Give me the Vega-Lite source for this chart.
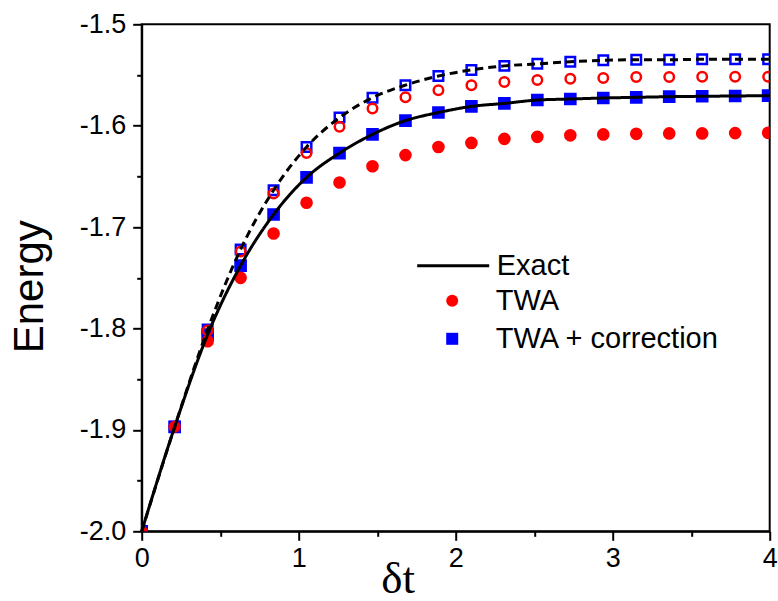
{
  "$schema": "https://vega.github.io/schema/vega-lite/v6.json",
  "width": 628,
  "height": 507,
  "autosize": {"type": "none"},
  "padding": {"left": 141.7, "top": 24.3, "right": 8.3, "bottom": 69.7},
  "background": "white",
  "config": {
    "view": {"stroke": "black", "strokeWidth": 2},
    "axis": {
      "domainColor": "black", "domainWidth": 2,
      "tickColor": "black", "tickWidth": 2,
      "labelColor": "black", "labelFont": "Liberation Sans", "labelFontSize": 27,
      "titleColor": "black", "titleFontWeight": "normal",
      "grid": false
    },
    "legend": {"labelFont": "Liberation Sans", "labelFontSize": 29, "labelColor": "black", "labelLimit": 0, "padding": 0, "rowPadding": 8}
  },
  "datasets": {
    "curves": [
      {"x": 0, "E": -2.0, "series": "Exact"},
      {"x": 0.21, "E": -1.897, "series": "Exact"},
      {"x": 0.42, "E": -1.806, "series": "Exact"},
      {"x": 0.63, "E": -1.738, "series": "Exact"},
      {"x": 0.84, "E": -1.6876, "series": "Exact"},
      {"x": 1.05, "E": -1.651, "series": "Exact"},
      {"x": 1.26, "E": -1.627, "series": "Exact"},
      {"x": 1.47, "E": -1.6086, "series": "Exact"},
      {"x": 1.68, "E": -1.595, "series": "Exact"},
      {"x": 1.89, "E": -1.587, "series": "Exact"},
      {"x": 2.10, "E": -1.581, "series": "Exact"},
      {"x": 2.31, "E": -1.578, "series": "Exact"},
      {"x": 2.52, "E": -1.5747, "series": "Exact"},
      {"x": 2.73, "E": -1.5737, "series": "Exact"},
      {"x": 2.94, "E": -1.5727, "series": "Exact"},
      {"x": 3.15, "E": -1.572, "series": "Exact"},
      {"x": 3.36, "E": -1.5714, "series": "Exact"},
      {"x": 3.57, "E": -1.571, "series": "Exact"},
      {"x": 3.78, "E": -1.5707, "series": "Exact"},
      {"x": 3.99, "E": -1.5704, "series": "Exact"},
      {"x": 4.0, "E": -1.5704, "series": "Exact"},
      {"x": 0, "E": -2.0, "series": "Dashed"},
      {"x": 0.21, "E": -1.897, "series": "Dashed"},
      {"x": 0.42, "E": -1.801, "series": "Dashed"},
      {"x": 0.63, "E": -1.722, "series": "Dashed"},
      {"x": 0.84, "E": -1.6636, "series": "Dashed"},
      {"x": 1.05, "E": -1.621, "series": "Dashed"},
      {"x": 1.26, "E": -1.592, "series": "Dashed"},
      {"x": 1.47, "E": -1.5724, "series": "Dashed"},
      {"x": 1.68, "E": -1.560, "series": "Dashed"},
      {"x": 1.89, "E": -1.551, "series": "Dashed"},
      {"x": 2.10, "E": -1.545, "series": "Dashed"},
      {"x": 2.31, "E": -1.541, "series": "Dashed"},
      {"x": 2.52, "E": -1.539, "series": "Dashed"},
      {"x": 2.73, "E": -1.537, "series": "Dashed"},
      {"x": 2.94, "E": -1.5355, "series": "Dashed"},
      {"x": 3.15, "E": -1.535, "series": "Dashed"},
      {"x": 3.36, "E": -1.535, "series": "Dashed"},
      {"x": 3.57, "E": -1.5345, "series": "Dashed"},
      {"x": 3.78, "E": -1.5345, "series": "Dashed"},
      {"x": 3.99, "E": -1.5345, "series": "Dashed"},
      {"x": 4.0, "E": -1.5345, "series": "Dashed"}
    ],
    "points": [
      {"x": 0, "E": -2.0, "series": "TWA + correction"},
      {"x": 0.21, "E": -1.897, "series": "TWA + correction"},
      {"x": 0.42, "E": -1.806, "series": "TWA + correction"},
      {"x": 0.63, "E": -1.738, "series": "TWA + correction"},
      {"x": 0.84, "E": -1.6876, "series": "TWA + correction"},
      {"x": 1.05, "E": -1.651, "series": "TWA + correction"},
      {"x": 1.26, "E": -1.627, "series": "TWA + correction"},
      {"x": 1.47, "E": -1.6086, "series": "TWA + correction"},
      {"x": 1.68, "E": -1.595, "series": "TWA + correction"},
      {"x": 1.89, "E": -1.587, "series": "TWA + correction"},
      {"x": 2.10, "E": -1.581, "series": "TWA + correction"},
      {"x": 2.31, "E": -1.578, "series": "TWA + correction"},
      {"x": 2.52, "E": -1.5747, "series": "TWA + correction"},
      {"x": 2.73, "E": -1.5737, "series": "TWA + correction"},
      {"x": 2.94, "E": -1.5727, "series": "TWA + correction"},
      {"x": 3.15, "E": -1.572, "series": "TWA + correction"},
      {"x": 3.36, "E": -1.5714, "series": "TWA + correction"},
      {"x": 3.57, "E": -1.571, "series": "TWA + correction"},
      {"x": 3.78, "E": -1.5707, "series": "TWA + correction"},
      {"x": 3.99, "E": -1.5704, "series": "TWA + correction"},
      {"x": 0, "E": -2.0, "series": "TWA"},
      {"x": 0.21, "E": -1.897, "series": "TWA"},
      {"x": 0.42, "E": -1.8125, "series": "TWA"},
      {"x": 0.63, "E": -1.750, "series": "TWA"},
      {"x": 0.84, "E": -1.7063, "series": "TWA"},
      {"x": 1.05, "E": -1.676, "series": "TWA"},
      {"x": 1.26, "E": -1.656, "series": "TWA"},
      {"x": 1.47, "E": -1.640, "series": "TWA"},
      {"x": 1.68, "E": -1.629, "series": "TWA"},
      {"x": 1.89, "E": -1.621, "series": "TWA"},
      {"x": 2.10, "E": -1.617, "series": "TWA"},
      {"x": 2.31, "E": -1.613, "series": "TWA"},
      {"x": 2.52, "E": -1.611, "series": "TWA"},
      {"x": 2.73, "E": -1.6095, "series": "TWA"},
      {"x": 2.94, "E": -1.6086, "series": "TWA"},
      {"x": 3.15, "E": -1.608, "series": "TWA"},
      {"x": 3.36, "E": -1.6076, "series": "TWA"},
      {"x": 3.57, "E": -1.6076, "series": "TWA"},
      {"x": 3.78, "E": -1.6073, "series": "TWA"},
      {"x": 3.99, "E": -1.607, "series": "TWA"},
      {"x": 0, "E": -2.0, "series": "TWA + correction open"},
      {"x": 0.21, "E": -1.897, "series": "TWA + correction open"},
      {"x": 0.42, "E": -1.801, "series": "TWA + correction open"},
      {"x": 0.63, "E": -1.722, "series": "TWA + correction open"},
      {"x": 0.84, "E": -1.6636, "series": "TWA + correction open"},
      {"x": 1.05, "E": -1.621, "series": "TWA + correction open"},
      {"x": 1.26, "E": -1.592, "series": "TWA + correction open"},
      {"x": 1.47, "E": -1.5724, "series": "TWA + correction open"},
      {"x": 1.68, "E": -1.560, "series": "TWA + correction open"},
      {"x": 1.89, "E": -1.551, "series": "TWA + correction open"},
      {"x": 2.10, "E": -1.545, "series": "TWA + correction open"},
      {"x": 2.31, "E": -1.541, "series": "TWA + correction open"},
      {"x": 2.52, "E": -1.539, "series": "TWA + correction open"},
      {"x": 2.73, "E": -1.537, "series": "TWA + correction open"},
      {"x": 2.94, "E": -1.5355, "series": "TWA + correction open"},
      {"x": 3.15, "E": -1.535, "series": "TWA + correction open"},
      {"x": 3.36, "E": -1.535, "series": "TWA + correction open"},
      {"x": 3.57, "E": -1.5345, "series": "TWA + correction open"},
      {"x": 3.78, "E": -1.5345, "series": "TWA + correction open"},
      {"x": 3.99, "E": -1.5345, "series": "TWA + correction open"},
      {"x": 0, "E": -2.0, "series": "TWA open"},
      {"x": 0.21, "E": -1.897, "series": "TWA open"},
      {"x": 0.42, "E": -1.802, "series": "TWA open"},
      {"x": 0.63, "E": -1.724, "series": "TWA open"},
      {"x": 0.84, "E": -1.6668, "series": "TWA open"},
      {"x": 1.05, "E": -1.627, "series": "TWA open"},
      {"x": 1.26, "E": -1.601, "series": "TWA open"},
      {"x": 1.47, "E": -1.583, "series": "TWA open"},
      {"x": 1.68, "E": -1.572, "series": "TWA open"},
      {"x": 1.89, "E": -1.565, "series": "TWA open"},
      {"x": 2.10, "E": -1.560, "series": "TWA open"},
      {"x": 2.31, "E": -1.557, "series": "TWA open"},
      {"x": 2.52, "E": -1.555, "series": "TWA open"},
      {"x": 2.73, "E": -1.5536, "series": "TWA open"},
      {"x": 2.94, "E": -1.553, "series": "TWA open"},
      {"x": 3.15, "E": -1.552, "series": "TWA open"},
      {"x": 3.36, "E": -1.552, "series": "TWA open"},
      {"x": 3.57, "E": -1.5517, "series": "TWA open"},
      {"x": 3.78, "E": -1.5517, "series": "TWA open"},
      {"x": 3.99, "E": -1.5517, "series": "TWA open"}
    ]
  },
  "layer": [
    {
      "data": {"name": "points"},
      "transform": [{"filter": "datum.series === 'TWA' || datum.series === 'TWA + correction'"}],
      "mark": {"type": "point", "filled": true, "opacity": 1, "size": 160, "clip": true},
      "encoding": {
        "x": {"field": "x", "type": "quantitative", "scale": {"domain": [0, 4], "nice": false},
          "axis": {"orient": "bottom",
            "values": [0, 0.5, 1, 1.5, 2, 2.5, 3, 3.5, 4],
            "tickSize": {"condition": {"test": "datum.value % 1 === 0", "value": 9}, "value": 5},
            "labelPadding": 5, "labelFlush": false, "labelOverlap": false,
            "labelExpr": "datum.value % 1 === 0 ? format(datum.value, 'd') : ''",
            "title": "δt", "titleFont": "Liberation Serif", "titleFontSize": 45,
            "titleX": 256, "titleY": 61, "titleAlign": "center", "titleBaseline": "alphabetic"}},
        "y": {"field": "E", "type": "quantitative", "scale": {"domain": [-2.0, -1.5], "nice": false, "zero": false},
          "axis": {"orient": "left",
            "values": [-2.0, -1.95, -1.9, -1.85, -1.8, -1.75, -1.7, -1.65, -1.6, -1.55, -1.5],
            "tickSize": {"condition": {"test": "abs(datum.value * 10 - round(datum.value * 10)) < 0.01", "value": 9}, "value": 5},
            "labelPadding": 7, "labelFlush": false, "labelOverlap": false,
            "labelExpr": "abs(datum.value * 10 - round(datum.value * 10)) < 0.01 ? replace(format(datum.value, '.1f'), '\u2212', '-') : ''",
            "title": "Energy", "titleFont": "Liberation Sans", "titleFontSize": 42,
            "titleAngle": -90, "titleX": -99, "titleY": 262, "titleAlign": "center", "titleBaseline": "alphabetic"}},
        "color": {"field": "series", "type": "nominal",
          "scale": {"domain": ["TWA", "TWA + correction"], "range": ["#ff0000", "#0000ff"]},
          "legend": {"orient": "none", "legendX": 296, "legendY": 262, "title": null,
            "symbolSize": 144, "labelOffset": 29}},
        "shape": {"field": "series", "type": "nominal",
          "scale": {"domain": ["TWA", "TWA + correction"], "range": ["circle", "square"]}}
      }
    },
    {
      "data": {"name": "points"},
      "transform": [{"filter": "datum.series === 'TWA + correction open'"}],
      "mark": {"type": "point", "shape": "square", "filled": false, "color": "#0000ff", "strokeWidth": 2.5, "size": 90, "opacity": 1, "clip": true},
      "encoding": {
        "x": {"field": "x", "type": "quantitative"},
        "y": {"field": "E", "type": "quantitative"}
      }
    },
    {
      "data": {"name": "points"},
      "transform": [{"filter": "datum.series === 'TWA open'"}],
      "mark": {"type": "point", "shape": "circle", "filled": false, "color": "#ff0000", "strokeWidth": 2.5, "size": 90, "opacity": 1, "clip": true},
      "encoding": {
        "x": {"field": "x", "type": "quantitative"},
        "y": {"field": "E", "type": "quantitative"}
      }
    },
    {
      "data": {"name": "curves"},
      "transform": [{"filter": "datum.series === 'Dashed'"}],
      "mark": {"type": "line", "color": "#000000", "strokeWidth": 3, "strokeDash": [8, 5], "interpolate": "monotone"},
      "encoding": {
        "x": {"field": "x", "type": "quantitative"},
        "y": {"field": "E", "type": "quantitative"}
      }
    },
    {
      "data": {"name": "curves"},
      "transform": [{"filter": "datum.series === 'Exact'"}],
      "mark": {"type": "line", "color": "#000000", "strokeWidth": 3, "interpolate": "monotone"},
      "encoding": {
        "x": {"field": "x", "type": "quantitative"},
        "y": {"field": "E", "type": "quantitative"},
        "strokeDash": {"field": "series", "type": "nominal",
          "scale": {"domain": ["Exact"], "range": [[1, 0]]},
          "legend": {"orient": "none", "legendX": 274, "legendY": 204, "title": null,
            "symbolType": "stroke", "symbolSize": 5184, "symbolStrokeWidth": 3, "symbolStrokeColor": "#000000",
            "labelOffset": 6}}
      }
    }
  ]
}
